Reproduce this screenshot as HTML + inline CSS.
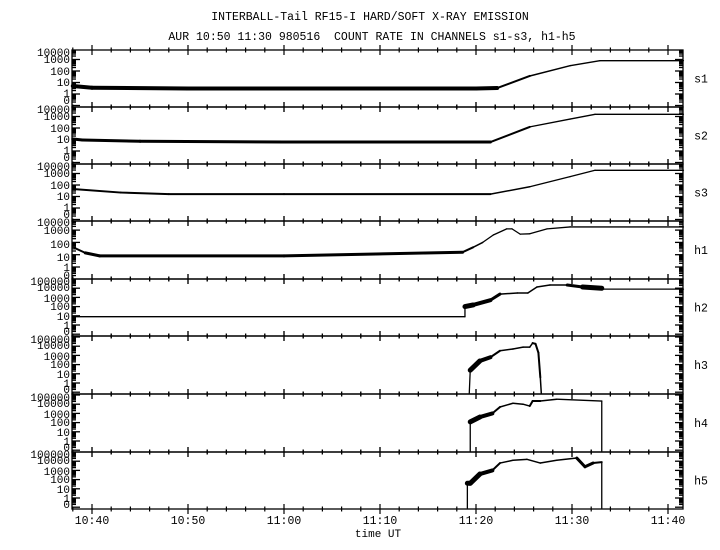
<!DOCTYPE html>
<html><head><meta charset="utf-8"><style>
html,body{margin:0;padding:0;background:#fff;width:720px;height:550px;overflow:hidden}
svg{display:block}
text{font-family:"Liberation Mono",monospace;fill:#000}
</style></head><body>
<svg id="chart" width="720" height="550" viewBox="0 0 720 550" xmlns="http://www.w3.org/2000/svg">
<rect x="0" y="0" width="720" height="550" fill="#fff"/>
<text x="370" y="20" font-size="11.5" text-anchor="middle">INTERBALL-Tail RF15-I HARD/SOFT X-RAY EMISSION</text>
<text x="372" y="40" font-size="11.5" text-anchor="middle" xml:space="preserve">AUR 10:50 11:30 980516  COUNT RATE IN CHANNELS s1-s3, h1-h5</text>
<g id="plot"></g>
<text x="378" y="537" font-size="11" text-anchor="middle">time UT</text>
</svg>
<script>
// ---- data (t = minutes after 10:00 UT, v = counts) ----
const channelNames = ["s1","s2","s3","h1","h2","h3","h4","h5"];
const xTickLabels = ["10:40","10:50","11:00","11:10","11:20","11:30","11:40"];
const xTickMinutes = [40,50,60,70,80,90,100];
const sLabels = ["10000","1000","100","10","1","0"];
const hLabels = ["100000","10000","1000","100","10","1","0"];
const h1Labels = ["10000","1000","100","10","1","0"];

const s1T = [38,40,50,60,70,80,82.2,85.6,89.8,92.9,101.6];
const s1V = [5,3.5,3,3,3,3,3.3,37,290,790,790];
const s1N = [4,4,4,4,4,4,2,1.5,1.3,1.3,1.3];

const s2T = [38,39,45,60,75,81.5,85.6,89.8,92.4,101.6];
const s2V = [11,9,7,6,6,6,125,600,1550,1550];
const s2N = [3,3,3,3,3,2,1.3,1.3,1.3,1.3];

const s3T = [38,43,48,60,81.5,85.6,89.8,92.4,101.6];
const s3V = [45,22,16,16,16,70,530,1900,1900];
const s3N = [2,2,2,2,1.5,1.3,1.3,1.3,1.3];

const h1T = [38.2,39.3,40.8,60,78.6,79.7,80.7,81.8,83.2,83.75,84.6,85.6,87.4,89.8,101.6];
const h1V = [35,14,8,8,16,40,100,400,1260,1260,470,500,1260,1800,1800];
const h1N = [2,3,3,3,2,1.5,1.3,1.3,1.3,1.3,1.3,1.3,1.3,1.3,1.3];

const h2T = [38,78.85,78.85,79.7,81.5,82.5,84.3,85.4,86.35,87.7,89.5,91.1,93.1,93.1,101.6];
const h2V = [8,8,100,150,500,2300,3000,3000,13500,22000,22000,13500,10000,8000,8000];
const h2N = [1.3,1.3,5,4,3,1.5,1.5,1.5,1.5,1.5,3,5,1.3,1.3,1.3];

const h3T = [79.3,79.4,80.4,81.5,82.5,83.85,84.9,85.6,85.9,86.2,86.5,86.7,86.8];
const h3V = [0,25,250,630,3200,5000,8000,8000,22000,18000,2000,4,0];
const h3N = [1.3,5,4,2,1.5,1.5,1.5,1.5,2,2,2,1.5,1.3];

const h4T = [79.4,79.4,80.4,81.7,82.5,83.85,84.9,85.6,85.9,86.7,88.4,93.1,93.1];
const h4V = [0,120,400,1000,5000,12600,10000,6300,22000,22000,35000,22000,0];
const h4N = [1.3,5,4,2,1.5,1.5,1.5,2,2,1.5,1.3,1.3,1.3];

const h5T = [79.1,79.1,79.4,80.4,81.7,82.5,83.85,85.3,86.7,88.4,90.5,91.35,92.2,93.1,93.1];
const h5V = [0,40,40,400,1000,6300,12600,16000,6300,12600,22000,2500,6300,8000,0];
const h5N = [1.3,5,5,4,2,1.5,1.5,1.5,1.5,1.5,3,3,2,1.3,1.3];

const seriesT = [s1T,s2T,s3T,h1T,h2T,h3T,h4T,h5T];
const seriesV = [s1V,s2V,s3V,h1V,h2V,h3V,h4V,h5V];
const seriesN = [s1N,s2N,s3N,h1N,h2N,h3N,h4N,h5N];

// ---- layout ----
const NS = "http://www.w3.org/2000/svg";
const plot = document.getElementById('plot');
const X0 = 72, X1 = 683;
const panelTops = [50,107,164,221,279,336,394,452];
const panelBottom = 509;
const xOf = t => 92 + (t - 40) * 9.6;
function panelScale(i){
  const bottom = i < 7 ? panelTops[i+1] : panelBottom;
  if (i < 3) return {bottom, y1: bottom-13, dec: 11.5, labels: sLabels, lab:[55,48,36,25,14,7]};
  if (i === 3) return {bottom, y1: bottom-12, dec: 12.3, labels: h1Labels, lab:[57,49,35,22,12,4]};
  return {bottom, y1: bottom-11, dec: 9.2, labels: hLabels, lab:[55,49,38,30,20,11,5]};
}
function yOf(sc, v){ return v <= 0 ? sc.bottom - 1 : sc.y1 - sc.dec * Math.log10(v); }
function mk(tag, attrs){ const e = document.createElementNS(NS, tag); for (const k in attrs) e.setAttribute(k, attrs[k]); return e; }

for (let i = 0; i < 8; i++){
  const sc = panelScale(i), top = panelTops[i], bottom = sc.bottom;
  const g = mk('g', {});
  
  
  plot.appendChild(g);
  const fr = mk('rect', {x:X0, y:top, width:X1-X0, height:bottom-top, fill:'none', stroke:'#000', 'stroke-width':1.3});
  
  
  g.appendChild(fr);
  // x ticks every 2 minutes at top & bottom
  for (let m = 38; m <= 101; m += 2){
    const x = xOf(m); if (x < X0 || x > X1) continue;
    const major = m % 10 === 0, L = major ? 5 : 2.5;
    for (const yy of [top, bottom]){
      const tk = mk('line', {x1:x, x2:x, y1:yy-L, y2:yy+L, stroke:'#000', 'stroke-width':1.2});
      
      
      g.appendChild(tk);
    }
  }
  // log y ticks left & right
  for (let k = -1; k <= 6; k++){
    for (let d = 1; d <= 9; d++){
      const v = d * Math.pow(10, k), y = yOf(sc, v);
      if (y < top + 0.5 || y > bottom - 0.5) continue;
      const L = d === 1 ? 8 : 4;
      for (const side of [0,1]){
        const x = side ? X1 : X0;
        const tk = mk('line', {x1:x, x2: side ? x-L : x+L, y1:y, y2:y, stroke:'#000', 'stroke-width':1.3});
        
        
        g.appendChild(tk);
      }
    }
  }
  // y labels
  sc.labels.forEach((lab, j) => {
    const tx = mk('text', {x:70, y: bottom - sc.lab[j] + 4, 'font-size':11, 'text-anchor':'end'});
    tx.textContent = lab;
    
    
    g.appendChild(tx);
  });
  // channel label
  const cl = mk('text', {x:701, y:(top+bottom)/2 + 4, 'font-size':11.5, 'text-anchor':'middle'});
  cl.textContent = channelNames[i];
  
  
  g.appendChild(cl);
  // series
  const T = seriesT[i], V = seriesV[i], N = seriesN[i];
  for (let p = 0; p < T.length - 1; p++){
    const seg = mk('line', {x1:xOf(T[p]), y1:yOf(sc, V[p]), x2:xOf(T[p+1]), y2:yOf(sc, V[p+1]), stroke:'#000', 'stroke-width':N[p], 'stroke-linecap':'round'});
    
    
    g.appendChild(seg);
  }
}
// x tick labels
xTickMinutes.forEach((m, j) => {
  const tx = mk('text', {x:xOf(m), y:524, 'font-size':11.5, 'text-anchor':'middle'});
  tx.textContent = xTickLabels[j];
  
  
  plot.appendChild(tx);
});
</script>
</body></html>
